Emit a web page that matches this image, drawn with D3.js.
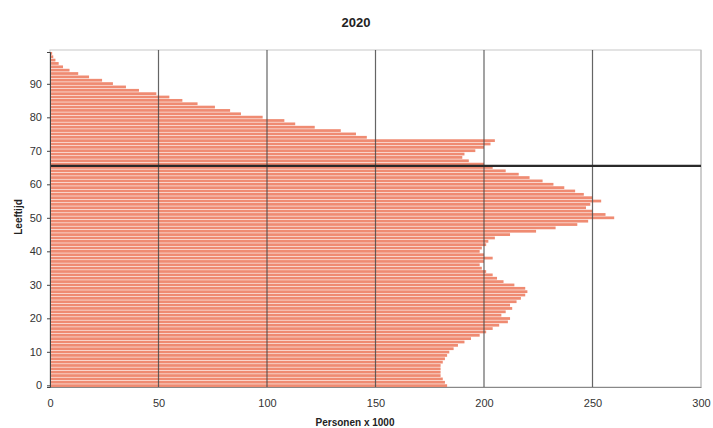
<!DOCTYPE html>
<html>
<head>
<meta charset="utf-8">
<script src="https://cdnjs.cloudflare.com/ajax/libs/d3/7.8.5/d3.min.js"></script>
<style>
    body { margin:0; background:#fff; }
    text { font-family:'Liberation Sans', Arial, sans-serif; }
</style>
</head>
<body>
<svg id="chart" width="713" height="428"></svg>
<script>
(function() {
    'use strict';

    var ages = d3.range(0, 100);
    var persons = [
        183, 182, 181, 180, 180, 180, 180, 181, 182, 183,
        184, 186, 188, 191, 194, 198, 201, 204, 207, 211,
        212, 208, 210, 213, 212, 215, 217, 219, 220, 219,
        214, 209, 206, 204, 201, 199, 198, 200, 204, 200,
        198, 199, 201, 202, 205, 212, 224, 233, 243, 248,
        260, 256, 250, 247, 249, 254, 250, 246, 242, 237,
        232, 227, 221, 216, 210, 204, 200, 193, 190, 191,
        196, 200, 203, 205, 146, 141, 134, 122, 113, 108,
        98, 88, 83, 76, 68, 61, 55, 49, 41, 35,
        29, 24, 18, 13, 9, 6, 4, 2.5, 1.5, 1
    ];
    var xTicks = [0, 50, 100, 150, 200, 250, 300];
    var yTicks = [0, 10, 20, 30, 40, 50, 60, 70, 80, 90];
    var markerAge = 66;

    var W = 713, H = 428,
        M = { top:50, right:12, bottom:41, left:50 },
        barTop = 52;

    var svg = d3.select('#chart');

    var x = d3.scaleLinear()
        .domain([0, 300])
        .range([M.left, W - M.right]);

    var y = d3.scaleBand()
        .domain(ages)
        .range([H - M.bottom, barTop])
        .paddingInner(0.18);

    var yLin = d3.scaleLinear()
        .domain([0, 100])
        .range([H - M.bottom, barTop]);

    /******************************************************************
        plot frame
     ******************************************************************/
    svg.append('rect')
        .attr('x', M.left)
        .attr('y', M.top)
        .attr('width', W - M.left - M.right)
        .attr('height', H - M.top - M.bottom)
        .attr('fill', '#fff')
        .attr('stroke', '#c8c8c8');

    svg.append('g')
        .selectAll('rect')
        .data(ages).enter()
            .append('rect')
                .attr('x', x(0))
                .attr('y', function(d) { return y(d); })
                .attr('width', function(d) { return x(persons[d]) - x(0); })
                .attr('height', y.bandwidth())
                .attr('fill', '#ef8b72');

    // verticale rasterlijnen
    svg.append('g')
        .selectAll('line')
        .data(xTicks.slice(1)).enter()
            .append('line')
                .attr('x1', function(d) { return x(d); })
                .attr('x2', function(d) { return x(d); })
                .attr('y1', M.top)
                .attr('y2', H - M.bottom)
                .attr('stroke', function(d) { return d === 300 ? '#b8b8b8' : '#4a4a4a'; })
                .attr('stroke-opacity', 0.85)
                .attr('stroke-width', 1.2);

    // horizontale lijn (pensioenleeftijd)
    svg.append('line')
        .attr('x1', x(0))
        .attr('x2', x(300))
        .attr('y1', yLin(markerAge))
        .attr('y2', yLin(markerAge))
        .attr('stroke', '#2a2a2a')
        .attr('stroke-width', 2.2);

    /******************************************************************
        axes
     ******************************************************************/
    var xAxis = svg.append('g')
        .attr('transform', 'translate(0,' + (H - M.bottom) + ')')
        .call(d3.axisBottom(x).tickValues(xTicks).tickSize(0).tickPadding(12));

    xAxis.select('.domain').attr('stroke', '#888');
    xAxis.selectAll('text')
        .attr('font-size', 11)
        .attr('fill', '#333');

    var yAxis = svg.append('g')
        .attr('transform', 'translate(' + M.left + ',0)')
        .call(d3.axisLeft(yLin).tickValues(yTicks.map(function(d) { return d + 0.5; }))
            .tickFormat(function(d) { return d - 0.5; })
            .tickSize(3).tickPadding(5));

    yAxis.select('.domain').attr('stroke', '#444');
    yAxis.selectAll('.tick line').attr('stroke', '#444');
    yAxis.selectAll('text')
        .attr('font-size', 11)
        .attr('dy', '0.32em')
        .attr('fill', '#333');

    // titels
    svg.append('text')
        .attr('x', 356)
        .attr('y', 27)
        .attr('text-anchor', 'middle')
        .attr('font-size', 13)
        .attr('font-weight', 'bold')
        .attr('fill', '#222')
        .text('2020');

    svg.append('text')
        .attr('x', 355)
        .attr('y', 426)
        .attr('text-anchor', 'middle')
        .attr('font-size', 10)
        .attr('font-weight', 'bold')
        .attr('fill', '#222')
        .text('Personen x 1000');

    svg.append('text')
        .attr('transform', 'translate(22,217) rotate(-90)')
        .attr('text-anchor', 'middle')
        .attr('font-size', 10)
        .attr('font-weight', 'bold')
        .attr('fill', '#222')
        .text('Leeftijd');
})();
</script>
</body>
</html>
